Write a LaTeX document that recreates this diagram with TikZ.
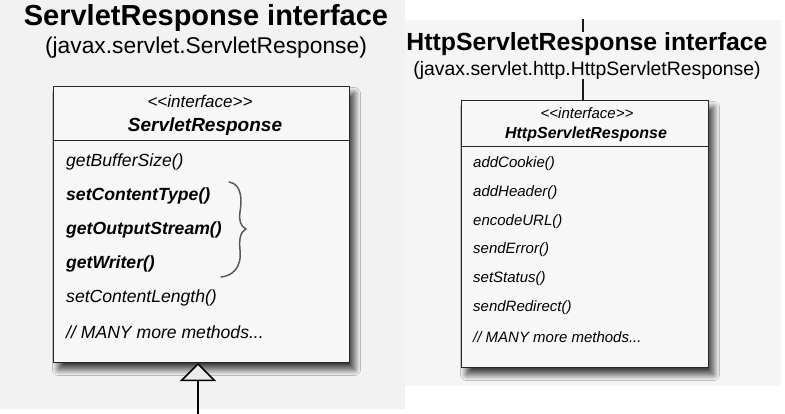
\documentclass[tikz,border=0pt]{standalone}
\usepackage{fontspec}
\setmainfont{Liberation Sans}
\usetikzlibrary{arrows.meta, positioning, shadows.blur}

\tikzset{
  umlbox/.style={draw=black!85, fill=white!97!black, line width=1pt, anchor=north west, inner sep=0pt,
    blur shadow={shadow xshift=5pt, shadow yshift=-7pt, shadow blur radius=6pt, shadow blur steps=12, shadow opacity=75}},
  bigtitle/.style={inner sep=0pt, font=\bfseries\fontsize{29}{33}\selectfont},
  smalltitle/.style={inner sep=0pt, font=\bfseries\fontsize{24.8}{28}\selectfont},
  bigsub/.style={inner sep=0pt, font=\fontsize{22.8}{26}\selectfont},
  smallsub/.style={inner sep=0pt, font=\fontsize{19.4}{23}\selectfont},
  bigmethod/.style={anchor=west, inner sep=0pt, font=\itshape\fontsize{17.6}{21}\selectfont},
  smallmethod/.style={anchor=west, inner sep=0pt, font=\itshape\fontsize{15}{18}\selectfont},
  link/.style={line width=2pt, black!90}
}

\begin{document}
\begin{tikzpicture}[x=1pt, y=-1pt]
    % backgrounds of the two panels
    \fill[black!5] (0,0) rectangle (405,409);
    \fill[black!4] (405,20) rectangle (781,386);
    \useasboundingbox (0,0) rectangle (785,414);

    % ServletResponse
    \node[bigtitle] (ltitle) at (206,18) {ServletResponse interface};
    \node[bigsub] (lsub) at (206,48) {(javax.servlet.ServletResponse)};
    \node[umlbox, minimum width=296pt, minimum height=276pt] (lbox) at (53,86) {};
    \node[inner sep=0pt, font=\itshape\fontsize{17}{20}\selectfont] (lstereo) at (200,101) {<\kern0pt<interface>\kern0pt>};
    \node[inner sep=0pt, font=\bfseries\itshape\fontsize{19}{22}\selectfont] (lname) at (205,127) {ServletResponse};
    \draw[line width=1pt, black!85] (lbox.west |- 0,141) -- (lbox.east |- 0,141);
    \foreach \i/\y/\txt in {1/162/getBufferSize(), 2/196/{\textbf{setContentType()}},
        3/230/{\textbf{getOutputStream()}}, 4/264/{\textbf{getWriter()}},
        5/298/setContentLength(), 6/332/{// MANY more methods...}} {
        \node[bigmethod] (lm\i) at (66,\y) {\txt};
    }
    % brace round the three bold methods
    \draw[black!65, line width=1.5pt, line cap=round]
        (229,182) .. controls (242,184) and (242,200) .. (240,212)
        .. controls (239,220) and (240,226) .. (246,229)
        .. controls (240,232) and (239,240) .. (240,250)
        .. controls (242,268) and (232,276) .. (221,277);
    \coordinate (lbase) at (198,414);
    \draw[line width=2.5pt, -{Triangle[length=18pt, width=36pt, fill=white!92!black, line width=1.5pt]}]
        (lbase) -- (lbase |- lbox.south);

    % HttpServletResponse
    \node[smalltitle] (rtitle) at (587,44) {HttpServletResponse interface};
    \node[smallsub] (rsub) at (587,70) {(javax.servlet.http.HttpServletResponse)};
    \node[umlbox, minimum width=247pt, minimum height=267pt] (rbox) at (461,100) {};
    \node[inner sep=0pt, font=\itshape\fontsize{15}{17}\selectfont] (rstereo) at (587,113) {<\kern0pt<interface>\kern0pt>};
    \node[inner sep=0pt, font=\bfseries\itshape\fontsize{16}{19}\selectfont] (rname) at (586,134) {HttpServletResponse};
    \draw[line width=1pt, black!85] (rbox.west |- 0,147) -- (rbox.east |- 0,147);
    \foreach \i/\y/\txt in {1/164/addCookie(), 2/193/addHeader(), 3/222/encodeURL(),
        4/250/sendError(), 5/279/setStatus(), 6/308/sendRedirect(), 7/337/{// MANY more methods...}} {
        \node[smallmethod] (rm\i) at (473,\y) {\txt};
    }
    \coordinate (rtop) at (583,19);
    \draw[link] (rtop) -- (rtop |- rtitle.north);
    \draw[link] (rtop |- rsub.south) -- (rtop |- rbox.north);
\end{tikzpicture}
\end{document}
